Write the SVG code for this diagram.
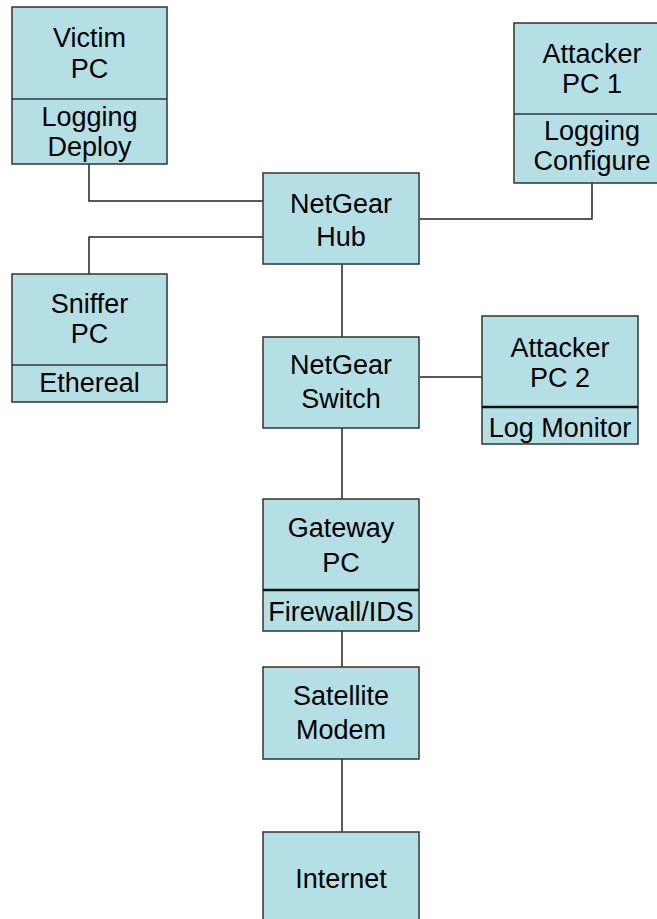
<svg xmlns="http://www.w3.org/2000/svg" width="657" height="919" viewBox="0 0 657 919">
<style>
.box{fill:#b3dfe5;stroke:#333;stroke-width:1.5}
.div{stroke:#333;stroke-width:1.5}
.div2{stroke:#111;stroke-width:2.5}
.t{font-family:"Liberation Sans",Arial,sans-serif;font-size:27px;fill:#000;text-anchor:middle}
.c{fill:none;stroke:#222;stroke-width:1.5}
</style>
<rect width="657" height="919" fill="#fff"/>
<g id="connectors">
<polyline class="c" points="89,164 89,201 263,201"/>
<polyline class="c" points="89,274 89,237 263,237"/>
<polyline class="c" points="420,219 592,219 592,183"/>
<line class="c" x1="342" y1="264" x2="342" y2="337"/>
<line class="c" x1="420" y1="377" x2="482" y2="377"/>
<line class="c" x1="342" y1="428" x2="342" y2="499"/>
<line class="c" x1="342" y1="631" x2="342" y2="667"/>
<line class="c" x1="342" y1="759" x2="342" y2="832"/>
</g>
<g id="victim">
<rect class="box" x="12" y="7" width="155" height="157"/>
<line class="div" x1="12" y1="99" x2="167" y2="99"/>
<text class="t" x="89.5" y="47">Victim</text>
<text class="t" x="89.5" y="78">PC</text>
<text class="t" x="89.5" y="126">Logging</text>
<text class="t" x="89.5" y="156">Deploy</text>
</g>
<g id="attacker1">
<rect class="box" x="514" y="23" width="156" height="160"/>
<line class="div" x1="514" y1="114" x2="670" y2="114"/>
<text class="t" x="592" y="63">Attacker</text>
<text class="t" x="592" y="93">PC 1</text>
<text class="t" x="592" y="140">Logging</text>
<text class="t" x="592" y="170">Configure</text>
</g>
<g id="sniffer">
<rect class="box" x="12" y="274" width="155" height="128"/>
<line class="div" x1="12" y1="365" x2="167" y2="365"/>
<text class="t" x="89.5" y="313">Sniffer</text>
<text class="t" x="89.5" y="343">PC</text>
<text class="t" x="89.5" y="392">Ethereal</text>
</g>
<g id="hub">
<rect class="box" x="263" y="173" width="156" height="91"/>
<text class="t" x="341" y="213">NetGear</text>
<text class="t" x="341" y="246">Hub</text>
</g>
<g id="switch">
<rect class="box" x="263" y="337" width="156" height="91"/>
<text class="t" x="341" y="374">NetGear</text>
<text class="t" x="341" y="408">Switch</text>
</g>
<g id="attacker2">
<rect class="box" x="482" y="316" width="156" height="128"/>
<line class="div2" x1="482" y1="407" x2="638" y2="407"/>
<text class="t" x="560" y="357">Attacker</text>
<text class="t" x="560" y="387">PC 2</text>
<text class="t" x="560" y="437">Log Monitor</text>
</g>
<g id="gateway">
<rect class="box" x="263" y="499" width="156" height="132"/>
<line class="div2" x1="263" y1="590" x2="419" y2="590"/>
<text class="t" x="341" y="537">Gateway</text>
<text class="t" x="341" y="572">PC</text>
<text class="t" x="341" y="621">Firewall/IDS</text>
</g>
<g id="satellite">
<rect class="box" x="263" y="667" width="156" height="92"/>
<text class="t" x="341" y="705">Satellite</text>
<text class="t" x="341" y="739">Modem</text>
</g>
<g id="internet">
<rect class="box" x="263" y="832" width="156" height="100"/>
<text class="t" x="341" y="888">Internet</text>
</g>
</svg>
